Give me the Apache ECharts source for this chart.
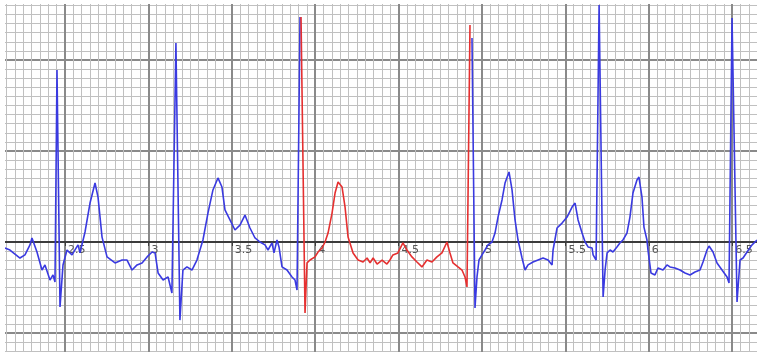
<!DOCTYPE html>
<html>
<head>
<meta charset="utf-8">
<script src="https://cdn.jsdelivr.net/npm/echarts@6/dist/echarts.min.js"></script>
<style>
html,body{margin:0;padding:0;background:#fff;}
#frame{position:absolute;left:0;top:0;width:757px;height:356px;background:#fff;overflow:hidden;}
#clip{position:absolute;left:5px;top:4px;width:752px;height:348px;overflow:hidden;}
#chart{position:absolute;left:-40px;top:-50px;width:900px;height:520px;}
</style>
</head>
<body>
<div id="frame"><div id="clip"><div id="chart"></div></div></div>
<script>
// Time (s) and amplitude (mV)
var blue1X = [2.140,2.170,2.200,2.230,2.260,2.290,2.302,2.332,2.362,2.380,2.410,2.428,2.440,2.452,2.470,2.488,2.512,2.542,2.578,2.590,2.620,2.650,2.680,2.698,2.722,2.752,2.800,2.842,2.872,2.902,2.932,2.962,2.992,3.022,3.040,3.058,3.088,3.118,3.141,3.165,3.189,3.207,3.231,3.261,3.291,3.327,3.357,3.387,3.417,3.441,3.459,3.489,3.519,3.549,3.579,3.609,3.639,3.669,3.699,3.717,3.741,3.753,3.771,3.783,3.801,3.831,3.861,3.879,3.891,3.909];
var blue1Y = [-0.033,-0.044,-0.066,-0.088,-0.071,-0.016,0.022,-0.055,-0.154,-0.126,-0.209,-0.181,-0.220,0.945,-0.357,-0.126,-0.044,-0.071,-0.016,-0.060,0.055,0.214,0.324,0.247,0.027,-0.082,-0.115,-0.099,-0.099,-0.154,-0.126,-0.115,-0.082,-0.055,-0.060,-0.170,-0.209,-0.192,-0.280,1.093,-0.429,-0.154,-0.137,-0.154,-0.099,0.011,0.159,0.286,0.352,0.302,0.176,0.121,0.066,0.093,0.148,0.077,0.022,0.000,-0.016,-0.044,-0.005,-0.060,0.011,-0.027,-0.137,-0.154,-0.192,-0.209,-0.264,1.236];

var redX = [3.915,3.939,3.951,3.969,3.999,4.017,4.041,4.059,4.077,4.101,4.119,4.137,4.161,4.179,4.197,4.227,4.257,4.287,4.311,4.329,4.347,4.371,4.401,4.430,4.448,4.466,4.496,4.526,4.550,4.580,4.610,4.640,4.670,4.700,4.730,4.760,4.790,4.808,4.826,4.856,4.880,4.898,4.910,4.928];
var redY = [1.236,-0.390,-0.115,-0.099,-0.082,-0.055,-0.033,0.000,0.049,0.159,0.269,0.330,0.302,0.192,0.027,-0.060,-0.099,-0.110,-0.088,-0.115,-0.088,-0.121,-0.099,-0.121,-0.099,-0.071,-0.060,-0.005,-0.044,-0.082,-0.110,-0.137,-0.099,-0.110,-0.082,-0.060,0.000,-0.060,-0.115,-0.137,-0.154,-0.192,-0.247,1.192];

var blue2X = [4.940,4.958,4.970,4.982,5.000,5.018,5.036,5.060,5.078,5.096,5.120,5.138,5.162,5.180,5.198,5.216,5.240,5.258,5.276,5.306,5.336,5.366,5.396,5.420,5.426,5.450,5.480,5.510,5.540,5.558,5.576,5.600,5.618,5.636,5.660,5.666,5.684,5.702,5.726,5.738,5.750,5.768,5.785,5.809,5.827,5.845,5.869,5.887,5.905,5.929,5.941,5.959,5.971,5.989,5.995,6.013,6.037,6.055,6.085,6.109,6.127,6.157,6.187,6.217,6.247,6.277,6.307,6.325,6.349,6.361,6.385,6.409,6.439,6.469,6.481,6.499,6.529,6.547,6.565,6.589,6.619,6.649];
var blue2Y = [1.121,-0.363,-0.192,-0.099,-0.071,-0.044,-0.016,0.000,0.049,0.137,0.231,0.324,0.385,0.286,0.121,0.011,-0.088,-0.154,-0.126,-0.110,-0.099,-0.088,-0.099,-0.126,-0.044,0.077,0.104,0.137,0.192,0.214,0.121,0.049,0.000,-0.027,-0.033,-0.071,-0.099,1.302,-0.302,-0.154,-0.060,-0.044,-0.055,-0.027,-0.005,0.011,0.049,0.137,0.269,0.341,0.357,0.247,0.082,0.011,-0.044,-0.170,-0.181,-0.143,-0.154,-0.126,-0.137,-0.143,-0.154,-0.170,-0.181,-0.165,-0.154,-0.110,-0.044,-0.022,-0.055,-0.115,-0.154,-0.192,-0.225,1.231,-0.330,-0.099,-0.088,-0.055,-0.016,0.011];

var xMin = 2, xMax = 7, xStep = 0.5;
var yMin = -1, yMax = 1.5, yStep = 0.5;
var gridH = 455, gridW = 834;

function pairs(xs, ys){ return xs.map(function(v,i){ return [v, ys[i]]; }); }

var chart = echarts.init(document.getElementById('chart'), null, {renderer:'canvas'});
var minorLine = {show:true, lineStyle:{color:'#c0c0c0', width:1}};
var majorLine = {show:true, lineStyle:{color:'#8a8a8a', width:2}};
// axis placed at y = 0 : offset upward by the distance from the bottom (yMin) to zero
var zeroOffset = -gridH * (0 - yMin) / (yMax - yMin);
chart.setOption({
  animation:false,
  backgroundColor:'#fff',
  grid:{left:16.6, top:15, width:gridW, height:gridH, containLabel:false},
  xAxis:{
    type:'value', min:xMin, max:xMax, interval:xStep, position:'bottom', offset:zeroOffset,
    axisLine:{show:true, onZero:false, lineStyle:{color:'#3c3c3c', width:2}},
    axisTick:{show:true, length:4, lineStyle:{color:'#3c3c3c', width:1}},
    axisLabel:{show:true, color:'#555555', fontSize:11, fontFamily:'DejaVu Sans', align:'left', margin:3, padding:[0,0,0,3],
      formatter:function(v){ return (v <= xMin || v >= xMax) ? '' : String(v); }},
    splitLine:majorLine,
    minorTick:{show:false, splitNumber:10},
    minorSplitLine:minorLine
  },
  yAxis:{
    type:'value', min:yMin, max:yMax, interval:yStep,
    axisLine:{show:false}, axisTick:{show:false}, axisLabel:{show:false},
    splitLine:majorLine,
    minorTick:{show:false, splitNumber:10},
    minorSplitLine:minorLine
  },
  series:[
    {type:'line', data:pairs(blue1X, blue1Y), showSymbol:false, symbol:'none', lineStyle:{color:'#3a3ae0', width:1.6}, z:3},
    {type:'line', data:pairs(redX, redY), showSymbol:false, symbol:'none', lineStyle:{color:'#e53030', width:1.6}, z:3},
    {type:'line', data:pairs(blue2X, blue2Y), showSymbol:false, symbol:'none', lineStyle:{color:'#3a3ae0', width:1.6}, z:3}
  ]
});
</script>
</body>
</html>
